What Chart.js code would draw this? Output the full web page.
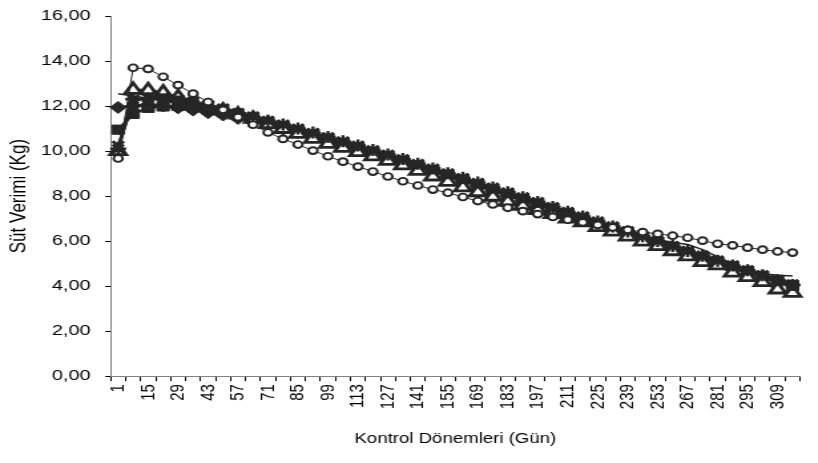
<!DOCTYPE html>
<html>
<head>
<meta charset="utf-8">
<script src="https://cdn.jsdelivr.net/npm/chart.js@4/dist/chart.umd.min.js"></script>
<style>
  html, body { margin: 0; padding: 0; background: #fff; overflow: hidden; width: 818px; height: 463px; }
  #wrap { position: absolute; left: 0; top: -4px; width: 617px; height: 467px; transform: scaleX(1.33); transform-origin: 0 0; }
</style>
</head>
<body>
<div id="wrap"><canvas id="c" width="617" height="467"></canvas></div>
<script>
// Control days (Gün)
const days = [1, 8, 15, 22, 29, 36, 43, 50, 57, 64, 71, 78, 85, 92, 99, 106, 113, 120, 127, 134, 141, 148, 155, 162, 169, 176, 183, 190, 197, 204, 211, 218, 225, 232, 239, 246, 253, 260, 267, 274, 281, 288, 295, 302, 309, 316];

// Series (Süt Verimi, Kg)
const diamondSeries = [11.94, 12.00, 12.05, 12.00, 11.92, 11.82, 11.70, 11.60, 11.45, 11.30, 11.15, 10.98, 10.82, 10.62, 10.45, 10.25, 10.08, 9.90, 9.70, 9.50, 9.30, 9.08, 8.88, 8.66, 8.45, 8.22, 8.02, 7.80, 7.60, 7.38, 7.18, 6.98, 6.78, 6.55, 6.35, 6.15, 5.92, 5.72, 5.50, 5.30, 5.10, 4.88, 4.68, 4.45, 4.25, 4.05];
const squareSeries = [10.95, 11.65, 11.92, 11.98, 12.00, 11.95, 11.85, 11.72, 11.58, 11.42, 11.25, 11.10, 10.92, 10.74, 10.55, 10.36, 10.17, 9.97, 9.77, 9.57, 9.36, 9.15, 8.94, 8.73, 8.51, 8.30, 8.08, 7.87, 7.65, 7.44, 7.22, 7.01, 6.79, 6.58, 6.36, 6.15, 5.93, 5.72, 5.50, 5.29, 5.07, 4.86, 4.65, 4.43, 4.22, 4.00];
const triangleSeries = [10.00, 12.72, 12.70, 12.60, 12.39, 12.16, 11.95, 11.80, 11.62, 11.43, 11.20, 10.98, 10.76, 10.54, 10.32, 10.14, 9.95, 9.76, 9.56, 9.36, 9.12, 8.87, 8.63, 8.39, 8.17, 7.97, 7.76, 7.57, 7.38, 7.20, 7.00, 6.83, 6.62, 6.42, 6.20, 5.98, 5.78, 5.55, 5.32, 5.07, 4.92, 4.60, 4.40, 4.18, 3.85, 3.70];
const crossSeries = [10.25, 12.20, 12.40, 12.40, 12.30, 12.20, 12.05, 11.90, 11.70, 11.55, 11.35, 11.18, 11.00, 10.80, 10.60, 10.42, 10.22, 10.02, 9.83, 9.62, 9.42, 9.22, 9.00, 8.80, 8.58, 8.38, 8.16, 7.95, 7.74, 7.52, 7.30, 7.10, 6.88, 6.66, 6.45, 6.23, 6.02, 5.80, 5.58, 5.37, 5.15, 4.93, 4.72, 4.50, 4.30, 4.10];
const starSeries = [10.10, 12.30, 12.35, 12.30, 12.20, 12.10, 11.98, 11.83, 11.68, 11.52, 11.35, 11.18, 11.00, 10.82, 10.63, 10.44, 10.25, 10.05, 9.85, 9.65, 9.44, 9.23, 9.02, 8.81, 8.60, 8.38, 8.17, 7.95, 7.74, 7.52, 7.30, 7.09, 6.87, 6.65, 6.43, 6.22, 6.00, 5.78, 5.56, 5.35, 5.13, 4.92, 4.70, 4.48, 4.27, 4.05];
const circleSeries = [9.67, 13.70, 13.65, 13.30, 12.93, 12.55, 12.18, 11.83, 11.50, 11.17, 10.83, 10.54, 10.29, 10.02, 9.77, 9.53, 9.31, 9.09, 8.87, 8.66, 8.47, 8.29, 8.15, 7.96, 7.78, 7.63, 7.48, 7.33, 7.20, 7.07, 6.95, 6.83, 6.72, 6.61, 6.50, 6.40, 6.32, 6.24, 6.15, 6.02, 5.88, 5.81, 5.71, 5.62, 5.54, 5.49];
const lineSeries = [12.55, 12.45, 12.35, 12.25, 12.12, 12.00, 11.86, 11.72, 11.56, 11.40, 11.23, 11.06, 10.88, 10.70, 10.51, 10.32, 10.13, 9.93, 9.73, 9.52, 9.31, 9.10, 8.89, 8.68, 8.46, 8.25, 8.03, 7.82, 7.60, 7.39, 7.18, 6.97, 6.77, 6.57, 6.38, 6.20, 6.05, 5.95, 5.85, 5.62, 5.30, 4.98, 4.70, 4.55, 4.48, 4.45];

// Axis ticks
const yTicks = [0, 2, 4, 6, 8, 10, 12, 14, 16];

const INK = '#262626';
const font = 'Liberation Sans, Arial, sans-serif';

new Chart(document.getElementById('c'), {
  type: 'line',
  data: {
    labels: days.map(String),
    datasets: [
      { data: lineSeries, borderColor: INK, borderWidth: 1.5, pointRadius: 0, order: 7 },
      { data: diamondSeries, borderColor: INK, backgroundColor: INK, borderWidth: 2.4, pointStyle: 'rectRot', pointRadius: 6, pointBorderWidth: 1, order: 6 },
      { data: squareSeries, borderColor: INK, backgroundColor: INK, borderWidth: 2.4, pointStyle: 'rect', pointRadius: 6.5, pointBorderWidth: 1, order: 5 },
      { data: triangleSeries, borderColor: INK, backgroundColor: '#ffffff', borderWidth: 2.4, pointStyle: 'triangle', pointRadius: 7, pointBorderWidth: 2.8, order: 4 },
      { data: crossSeries, borderColor: INK, backgroundColor: INK, borderWidth: 2.4, pointStyle: 'crossRot', pointRadius: 6, pointBorderWidth: 2.8, order: 3 },
      { data: starSeries, borderColor: INK, backgroundColor: INK, borderWidth: 2.4, pointStyle: 'star', pointRadius: 6, pointBorderWidth: 2.4, order: 2 },
      { data: circleSeries, borderColor: INK, backgroundColor: '#ffffff', borderWidth: 1, pointStyle: 'circle', pointRadius: 3.4, pointBorderWidth: 1.9, order: 1 }
    ]
  },
  options: {
    responsive: false,
    animation: false,
    layout: { padding: { top: 1, right: 0, bottom: 13, left: 0 } },
    plugins: { legend: { display: false }, tooltip: { enabled: false } },
    elements: { line: { tension: 0 } },
    scales: {
      x: {
        offset: true,
        grid: { display: true, offset: true, drawOnChartArea: false, drawTicks: true, tickLength: 5, color: '#000000', lineWidth: 1 },
        border: { display: true, color: '#808080', width: 1 },
        ticks: {
          autoSkip: false, minRotation: 90, maxRotation: 90, padding: 3,
          color: '#000000', font: { family: font, size: 15 },
          callback: function (v, i) { return i % 2 === 0 ? days[i] : ''; }
        },
        title: { display: true, text: 'Kontrol Dönemleri (Gün)', color: '#000000', font: { family: font, size: 14 }, padding: { top: 19, bottom: 2 } }
      },
      y: {
        min: 0, max: 16,
        afterBuildTicks: function (scale) { scale.ticks = yTicks.map(v => ({ value: v })); },
        afterFit: function (scale) { scale.width = 83.2; },
        grid: { display: true, drawOnChartArea: false, drawTicks: true, tickLength: 4, color: '#000000' },
        border: { display: true, color: '#808080', width: 1 },
        ticks: {
          padding: 11, color: '#000000', font: { family: font, size: 15 },
          callback: function (v) { return Number(v).toFixed(2).replace('.', ','); }
        },
        title: { display: true, text: 'Süt Verimi (Kg)', color: '#000000', font: { family: font, size: 17 }, padding: { top: 4, bottom: 4 } }
      }
    }
  }
});
</script>
</body>
</html>
